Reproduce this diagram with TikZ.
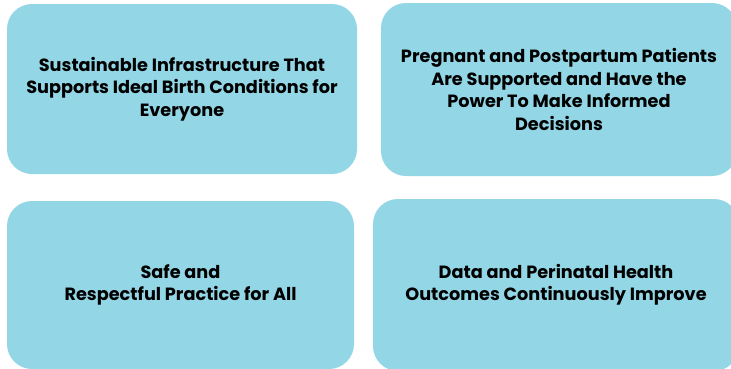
\documentclass[tikz,border=0pt]{standalone}
\usepackage{fontspec}
\setmainfont{Poppins}
\usepackage{tikz}

\definecolor{goalblue}{RGB}{147,214,230}

\begin{document}
\begin{tikzpicture}[x=1pt,y=1pt,
		goal/.style={fill=goalblue, rounded corners=25pt, align=center,
			font=\bfseries\fontsize{17.7}{22.5}\selectfont, inner sep=0pt}]
			% page, boxes on the right and bottom run past it
			\clip (0,0) rectangle (731,-368);

			\node [goal, minimum width=350pt, minimum height=170pt] (infra) at (182,-89)
				{Sustainable Infrastructure That\\Supports Ideal Birth Conditions for\\Everyone};
			\node [goal, minimum width=356pt, minimum height=173pt] (patients) at (559,-89.5)
				{Pregnant and Postpartum Patients\\Are Supported and Have the\\Power To Make Informed\\Decisions};
			\node [goal, minimum width=347pt, minimum height=168pt] (practice) at (180.5,-285)
				{Safe and\\Respectful Practice for All};
			\node [goal, minimum width=366pt, minimum height=172pt] (data) at (556,-285)
				{Data and Perinatal Health\\Outcomes Continuously Improve};

		\end{tikzpicture}
\end{document}
